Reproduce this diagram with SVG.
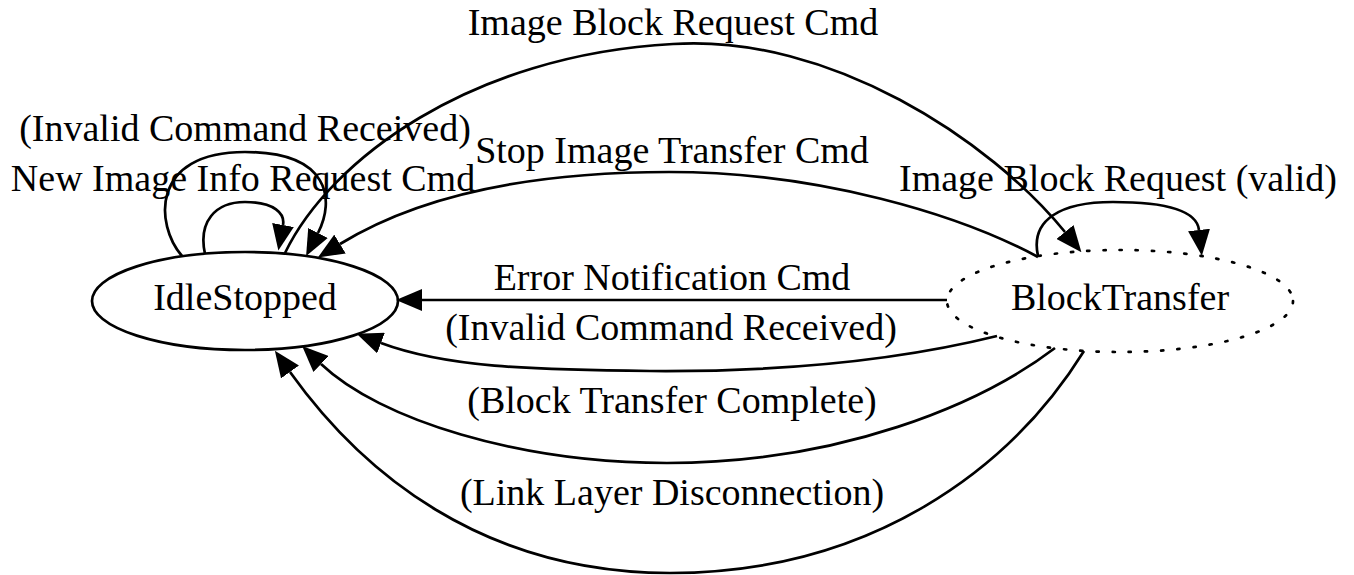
<svg xmlns="http://www.w3.org/2000/svg" width="1354" height="575" viewBox="0 0 1354 575">
<defs>
<style>
text{font-family:"Liberation Serif","Times New Roman",serif;font-size:38px;fill:#000;text-anchor:middle}
.node{fill:none;stroke:#000;stroke-width:2.7}
.dotted{stroke-dasharray:2.2 14;stroke-linecap:round}
.edge{fill:none;stroke:#000;stroke-width:2.7;marker-end:url(#arrow)}
</style>
<marker id="arrow" markerUnits="userSpaceOnUse" viewBox="0 0 26 22" refX="0" refY="11" markerWidth="26" markerHeight="22" orient="auto">
<path d="M0,0 L26,11 L0,22 Z" fill="#000"/>
</marker>
</defs>
<rect width="1354" height="575" fill="#fff"/>
<g id="node-IdleStopped">
<ellipse class="node" cx="245" cy="301" rx="153" ry="49"/>
<text x="245" y="310">IdleStopped</text>
</g>
<g id="node-BlockTransfer">
<ellipse class="node dotted" cx="1120" cy="301" rx="173" ry="51"/>
<text x="1120" y="310">BlockTransfer</text>
</g>
<g id="connectors">
<path class="edge" d="M285,253 C330,160 470,55 673,44 C830,34 990,140 1065,232"/>
<text x="673" y="35">Image Block Request Cmd</text>
<path class="edge" d="M1038,257 C960,215 820,172 669,172 C530,172 420,195 340,244"/>
<text x="672" y="163">Stop Image Transfer Cmd</text>
<path class="edge" d="M947,300 L422,300"/>
<text x="672" y="290">Error Notification Cmd</text>
<path class="edge" d="M997,336 C900,360 780,372 650,371 C530,370 445,367 381,343"/>
<text x="671" y="340">(Invalid Command Received)</text>
<path class="edge" d="M1055,348 C980,405 840,463 667,463 C520,463 380,420 321,364"/>
<text x="672" y="413">(Block Transfer Complete)</text>
<path class="edge" d="M1084,351 C1010,470 870,573 670,573 C480,573 360,470 290,372"/>
<text x="672" y="505">(Link Layer Disconnection)</text>
<path class="edge" d="M205,254 C198,222 215,202 245,202 C275,202 285,214 283,225"/>
<text x="243" y="191">New Image Info Request Cmd</text>
<path class="edge" d="M182,256 C155,225 150,152 245,152 C330,152 335,200 318,233"/>
<text x="245" y="141">(Invalid Command Received)</text>
<path class="edge" d="M1038,256 C1030,220 1060,202 1113,202 C1170,202 1197,212 1199,230"/>
<text x="1118" y="191">Image Block Request (valid)</text>
</g>
</svg>
